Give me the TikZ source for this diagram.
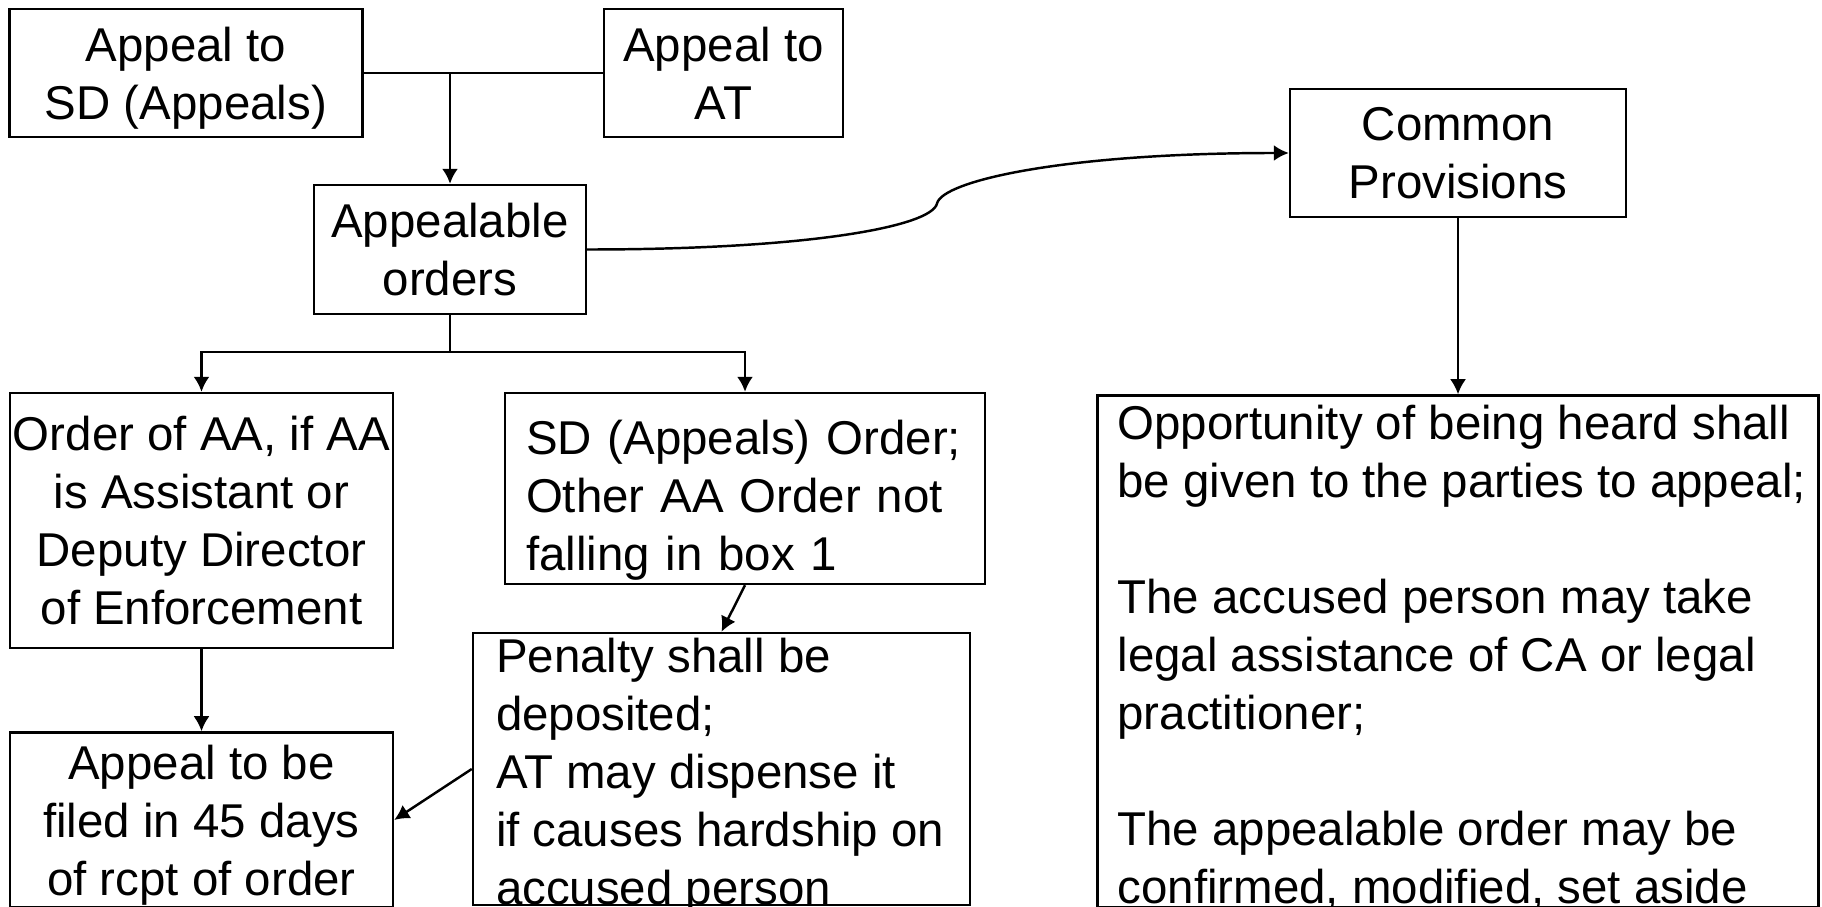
\documentclass[tikz,border=0pt]{standalone}
\usepackage{fontspec}
\setmainfont{Liberation Sans}
\usetikzlibrary{arrows.meta,positioning}

\begin{document}
\begin{tikzpicture}[>={Latex[length=3mm,width=3.2mm]}, line width=1.4pt, font=\fontsize{27}{33}\selectfont]
    \tikzstyle{box}=[draw, align=center, inner sep=0pt, text depth=0pt]
    \tikzstyle{leftbox}=[draw, align=left, inner xsep=0.42cm, inner ysep=0pt, execute at begin node={\rule{0pt}{33pt}}]
    \tikzstyle{frame}=[draw, inner sep=0pt]
    \tikzstyle{txt}=[align=left, inner sep=0pt, anchor=west, text depth=0pt, yshift=-0.05cm]

    \useasboundingbox (0,0) rectangle (36.44,-18.14);

    \node[box, minimum width=7.06cm, minimum height=2.56cm] (sd) at (3.72,-1.46) {Appeal to\\SD (Appeals)};
    \node[box, minimum width=4.78cm, minimum height=2.56cm] (at) [right=4.78cm of sd] {Appeal to\\AT};
    \node[box, minimum width=5.44cm, minimum height=2.58cm] (app) at (9.0,-4.99) {Appealable\\orders};
    \node[box, minimum width=6.72cm, minimum height=2.56cm] (com) at (29.16,-3.06) {Common\\Provisions};
    \node[box, minimum width=7.66cm, minimum height=5.10cm] (ord) at (4.03,-10.41) {Order of AA, if AA\\is Assistant or\\Deputy Director\\of Enforcement};
    \node[box, minimum width=7.66cm, minimum height=3.5cm] (file) [below=1.64cm of ord] {Appeal to be\\filed in 45 days\\of rcpt of order};
    \node[leftbox, text width=8.76cm, minimum height=3.82cm] (sdo) at (14.9,-9.77) {SD (Appeals) Order;\\Other AA Order not\\falling in box 1};

    % boxes whose text runs past the frame
    \node[frame, minimum width=9.94cm, minimum height=5.44cm] (pen) at (14.43,-15.38) {};
    \node[txt] at ([xshift=0.46cm]pen.west) {Penalty shall be\\deposited;\\AT may dispense it\\if causes hardship on\\accused person};
    \node[frame, minimum width=14.42cm, minimum height=10.24cm] (hear) [below=3.52cm of com] {};
    \node[txt] at ([xshift=0.4cm]hear.west) {Opportunity of being heard shall\\be given to the parties to appeal;\\[33pt]The accused person may take\\legal assistance of CA or legal\\practitioner;\\[33pt]The appealable order may be\\confirmed, modified, set aside};

    \coordinate (bend) at (18.74,-4.07);

    \draw (sd.east) -- (at.west);
    \draw[->] (sd.east -| app.north) -- (app.north);
    \draw[->] (app.east) .. controls +(4.5,0) and +(-0.1,-0.45) .. (bend)
                         .. controls +(0.1,0.45) and +(-4.5,0) .. (com.west);
    \draw[->] (app.south) -- ++(0,-0.74) -| (ord.north);
    \draw[->] (app.south) -- ++(0,-0.74) -| (sdo.north);
    \draw[->] (ord.south) -- (file.north);
    \draw[->] (sdo.south) -- (pen.north);
    \draw[->] (pen.west) -- (file.east);
    \draw[->] (com.south) -- (hear.north);

\end{tikzpicture}
\end{document}
